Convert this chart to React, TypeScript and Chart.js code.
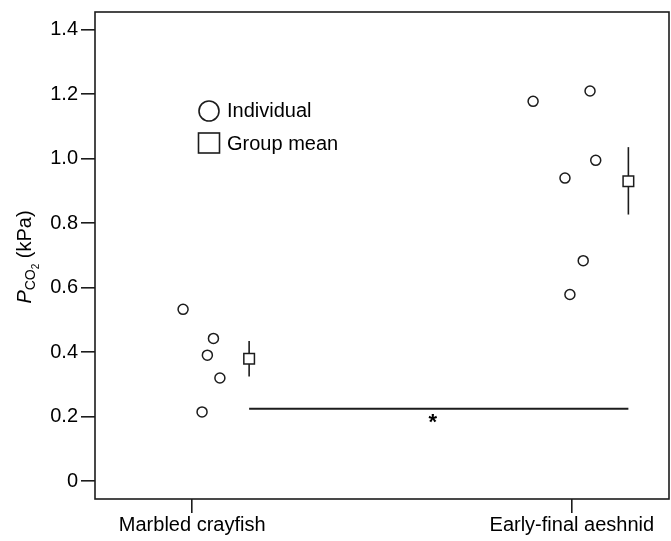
import React, { useEffect, useRef } from 'react';
import { Chart, registerables } from 'chart.js';

Chart.register(...registerables);

const categories = ['Marbled crayfish', 'Early-final aeshnid'];
const categoryPositions = [0, 1];
const crayfishJitter = [-0.024, 0.056, 0.04, 0.073, 0.026];
const crayfishValues = [0.533, 0.443, 0.391, 0.32, 0.215];
const aeshnidJitter = [0.898, 1.048, 1.063, 0.982, 1.03, 0.995];
const aeshnidValues = [1.178, 1.21, 0.995, 0.94, 0.684, 0.579];
const meanX = [0.15, 1.149];
const meanValues = [0.38, 0.93];
const errLow = [0.325, 0.827];
const errHigh = [0.435, 1.036];
const sigValue = 0.225;
const yTicks = [0, 0.2, 0.4, 0.6, 0.8, 1.0, 1.2, 1.4];
const legendLabels = ['Individual', 'Group mean'];

const FONT = "'Liberation Sans', Arial, sans-serif";
const INK = '#1c1c1c';
const RIGHT_GAP = 2;

const layoutFixPlugin = {
  id: 'layoutFix',
  afterLayout(chart: any) {
    const right = chart.width - RIGHT_GAP;
    const ca = chart.chartArea;
    ca.right = right;
    ca.width = right - ca.left;
    const x = chart.scales.x;
    x.right = right;
    x.width = right - x.left;
    if (x.configure) x.configure();
  },
};

const overlayPlugin = {
  id: 'overlay',
  afterDraw(chart: any) {
    const { ctx, chartArea, scales } = chart;
    ctx.save();
    // frame
    ctx.strokeStyle = INK;
    ctx.lineWidth = 1.6;
    ctx.strokeRect(chartArea.left, chartArea.top, chartArea.right - chartArea.left, chartArea.bottom - chartArea.top);

    // asterisk under significance line
    const midX = scales.x.getPixelForValue((meanX[0] + meanX[1]) / 2) - 6;
    const sy = scales.y.getPixelForValue(sigValue);
    ctx.fillStyle = '#000';
    ctx.font = `bold 22px ${FONT}`;
    ctx.textAlign = 'center';
    ctx.textBaseline = 'middle';
    ctx.fillText('*', midX, sy + 14);

    // legend
    ctx.lineWidth = 1.6;
    ctx.strokeStyle = INK;
    ctx.beginPath();
    ctx.arc(209, 111, 10, 0, Math.PI * 2);
    ctx.stroke();
    ctx.strokeRect(198.5, 133, 21, 20);
    ctx.font = `20px ${FONT}`;
    ctx.textAlign = 'left';
    ctx.textBaseline = 'middle';
    ctx.fillStyle = '#000';
    ctx.fillText(legendLabels[0], 227, 111);
    ctx.fillText(legendLabels[1], 227, 144);

    // y title: P_CO2 (kPa)
    ctx.translate(24, 257);
    ctx.rotate(-Math.PI / 2);
    const parts = [
      { t: 'P', f: `italic 20px ${FONT}`, dy: 0 },
      { t: 'CO', f: `14px ${FONT}`, dy: 4 },
      { t: '2', f: `10px ${FONT}`, dy: 8 },
      { t: ' (kPa)', f: `20px ${FONT}`, dy: 0 },
    ];
    let total = 0;
    for (const p of parts) {
      ctx.font = p.f;
      total += ctx.measureText(p.t).width;
    }
    let x = -total / 2;
    ctx.textBaseline = 'alphabetic';
    for (const p of parts) {
      ctx.font = p.f;
      ctx.fillText(p.t, x, 7 + p.dy);
      x += ctx.measureText(p.t).width;
    }
    ctx.restore();
  },
};

export default function App() {
  const ref = useRef<HTMLCanvasElement | null>(null);
  useEffect(() => {
    document.body.style.margin = '0';
    if (!ref.current) return;
    const individuals = [
      ...crayfishJitter.map((x, i) => ({ x, y: crayfishValues[i] })),
      ...aeshnidJitter.map((x, i) => ({ x, y: aeshnidValues[i] })),
    ];
    const means = meanX.map((x, i) => ({ x, y: meanValues[i] }));
    const errorSets = meanX.map((x, i) => ({
      type: 'line' as const,
      data: [
        { x, y: errLow[i] },
        { x, y: errHigh[i] },
      ],
      borderColor: INK,
      borderWidth: 1.6,
      pointRadius: 0,
      showLine: true,
      order: 3,
    }));
    const chart = new Chart(ref.current, {
      type: 'scatter',
      data: {
        datasets: [
          ...errorSets,
          {
            type: 'line' as const,
            data: [
              { x: meanX[0], y: sigValue },
              { x: meanX[1], y: sigValue },
            ],
            borderColor: INK,
            borderWidth: 2,
            pointRadius: 0,
            showLine: true,
            order: 3,
          },
          {
            data: individuals,
            pointStyle: 'circle',
            pointRadius: 5,
            pointBackgroundColor: '#fff',
            pointBorderColor: INK,
            pointBorderWidth: 1.5,
            order: 1,
          },
          {
            data: means,
            pointStyle: 'rect',
            pointRadius: 7.5,
            pointBackgroundColor: '#fff',
            pointBorderColor: INK,
            pointBorderWidth: 1.5,
            order: 0,
          },
        ] as any,
      },
      options: {
        animation: false,
        responsive: false,
        maintainAspectRatio: false,
        layout: { padding: { top: 12, right: RIGHT_GAP, left: 0, bottom: 0 } },
        plugins: { legend: { display: false }, tooltip: { enabled: false } },
        scales: {
          x: {
            type: 'linear',
            min: -0.256,
            max: 1.256,
            border: { display: false },
            grid: { drawOnChartArea: false, drawTicks: true, tickLength: 14, color: INK, lineWidth: 1.6 },
            afterBuildTicks: (s: any) => {
              s.ticks = categoryPositions.map((v) => ({ value: v }));
            },
            afterFit: (s: any) => {
              s.height = 42;
              s.paddingLeft = 0;
              s.paddingRight = 0;
            },
            ticks: {
              padding: 0,
              color: '#000',
              font: { family: FONT, size: 20 },
              maxRotation: 0,
              autoSkip: false,
              callback: (v: any) => categories[categoryPositions.indexOf(Number(v))] ?? '',
            },
          },
          y: {
            type: 'linear',
            min: -0.055,
            max: 1.455,
            border: { display: false },
            grid: { drawOnChartArea: false, drawTicks: true, tickLength: 14, color: INK, lineWidth: 1.6 },
            afterBuildTicks: (s: any) => {
              s.ticks = yTicks.map((v) => ({ value: v }));
            },
            afterFit: (s: any) => {
              s.width = 95;
              s.paddingTop = 0;
              s.paddingBottom = 0;
            },
            ticks: {
              padding: 3,
              color: '#000',
              font: { family: FONT, size: 20 },
              autoSkip: false,
              callback: (v: any) => (Number(v) === 0 ? '0' : Number(v).toFixed(1)),
            },
          },
        },
      },
      plugins: [layoutFixPlugin, overlayPlugin],
    });
    return () => chart.destroy();
  }, []);
  return (
    <div style={{ position: 'fixed', left: 0, top: 0, width: 671, height: 541 }}>
      <canvas ref={ref} width={671} height={541} style={{ width: 671, height: 541 }} />
    </div>
  );
}
